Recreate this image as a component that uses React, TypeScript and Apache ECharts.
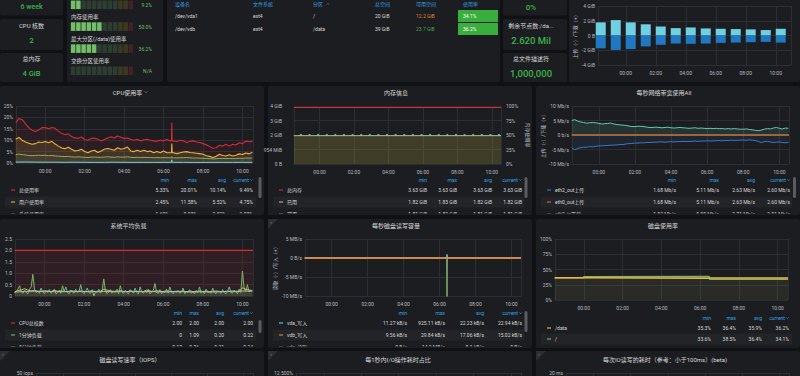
import React, { useEffect, useRef } from "react";
import * as echarts from "echarts";

const FONT = 'Roboto, "Noto Sans CJK SC", "Noto Sans", sans-serif';
const PAGE = "#101114";
const PANEL = "#1c1d21";
const ROWHL = "#232428";
const GRIDC = "#2c2e33";
const TXT = "#d8d9da";
const AXC = "#b9bcc0";
const HEAD = "#33a2e5";
const STATG = "#3cb44a";
const MIN = 60000;
const HOUR = 3600000;

const ts = (hm: string) => {
  const [h, m] = hm.split(":").map(Number);
  return new Date(2024, 0, h >= 12 ? 1 : 2, h, m).getTime();
};
const seq = (start: string, stepMin: number, vals: number[]) =>
  vals.map((v, i) => [ts(start) + i * stepMin * MIN, v]);
const pts = (times: string[], vals: number[]) => vals.map((v, i) => [ts(times[i]), v]);
const merge = (a: any[], b: any[]) => [...a, ...b].sort((p, q) => p[0] - q[0]);

// ---------- top row data ----------
const statLeftTitles = ["", "CPU 核数", "总内存"];
const statLeftValues = ["6 week", "2", "4 GiB"];
const statRightTitles = ["", "剩余节点数:/da...", "总文件描述符"];
const statRightValues = ["0%", "2.620 Mil", "1,000,000"];
const gaugeLabels = ["", "内存使用率", "最大分区(/data)使用率", "交换分区使用率"];
const gaugeValues: (number | null)[] = [9.2, 50.0, 36.2, null];
const gaugeTexts = ["9.2%", "50.0%", "36.2%", "N/A"];
const gaugeCells = ["c0", "c1", "c2", "c3", "c4", "c5", "c6", "c7", "c8", "c9", "c10", "c11"];
const tableHeaders = ["设备名", "文件系统", "分区", "总空间", "可用空间", "使用率"];
const tableDevices = ["/dev/vda1", "/dev/vdb"];
const tableFs = ["ext4", "ext4"];
const tableMounts = ["/", "/data"];
const tableTotals = ["20 GiB", "39 GiB"];
const tableAvail = ["12.2 GiB", "23.7 GiB"];
const tableAvailColors = ["#e5832b", "#56a64b"];
const tableUsage = ["34.1%", "36.2%"];

// top-right hourly network bars (GiB)
const netBarHours = ["22:00", "23:00", "00:00", "01:00", "02:00", "03:00", "04:00", "05:00", "06:00", "07:00", "08:00", "09:00", "10:00"];
const netBarDown = [1.78, 2.09, 1.78, 1.52, 1.22, 1.0, 1.09, 0.96, 0.91, 0.87, 0.83, 0.74, 0.91];
const netBarUp = [-1.74, -1.96, -1.83, -1.48, -1.26, -1.09, -1.13, -1.09, -1.0, -0.96, -0.91, -0.87, -0.96];

// ---------- CPU ----------
const cpuTotal = [17.7, 19.5, 19.0, 17.2, 15.5, 14.4, 13.8, 14.5, 15.5, 15.6, 15.0, 15.6, 15.2, 14.0, 13.0, 12.4, 12.8, 11.6, 11.0, 10.9, 11.4, 10.3, 10.0, 10.8, 11.0, 10.4, 9.6, 10.3, 11.0, 11.5, 11.0, 11.8, 11.3, 10.8, 11.0, 10.4, 10.0, 10.4, 9.7, 10.2, 10.4, 10.0, 9.7, 9.5, 10.0, 9.7, 10.4, 9.7, 9.7, 9.4, 10.0, 9.7, 9.0, 9.4, 9.7, 9.2, 9.0, 8.5, 8.0, 7.2, 6.5, 6.7, 7.8, 7.4, 8.2, 7.4, 8.2, 7.9, 8.9, 8.5, 9.6, 9.3, 9.49];
const cpuUser = [10.4, 11.2, 10.0, 9.2, 8.7, 8.2, 8.5, 9.2, 9.0, 9.4, 8.9, 9.5, 8.3, 7.4, 6.6, 6.3, 6.9, 6.0, 5.3, 5.5, 6.0, 5.0, 4.5, 5.3, 5.6, 4.6, 5.3, 6.0, 6.4, 6.0, 5.6, 6.7, 6.0, 6.4, 7.0, 5.3, 5.0, 5.6, 5.0, 5.6, 5.0, 5.3, 4.5, 5.0, 4.5, 5.3, 4.5, 4.5, 4.5, 4.1, 4.5, 4.8, 5.0, 4.6, 4.5, 4.3, 4.1, 3.8, 3.2, 2.9, 2.4, 3.0, 3.8, 3.3, 3.1, 3.6, 3.1, 3.4, 4.0, 3.7, 4.4, 4.0, 4.75];
const cpuSys = [3.6, 3.9, 3.7, 3.5, 3.3, 3.2, 3.3, 3.4, 3.3, 3.4, 3.2, 3.3, 3.1, 3.0, 2.9, 2.8, 2.9, 2.7, 2.6, 2.7, 2.6, 2.5, 2.4, 2.6, 2.6, 2.5, 2.5, 2.6, 2.7, 2.6, 2.5, 2.7, 2.6, 2.6, 2.7, 2.5, 2.4, 2.5, 2.4, 2.5, 2.4, 2.4, 2.3, 2.4, 2.3, 2.4, 2.3, 2.3, 2.3, 2.2, 2.3, 2.3, 2.4, 2.3, 2.2, 2.2, 2.1, 2.1, 2.0, 1.9, 1.8, 1.9, 2.0, 2.0, 1.9, 2.0, 1.9, 2.0, 2.1, 2.0, 2.2, 2.1, 2.2];
const cpuIo = [0.4, 0.45, 0.4, 0.35, 0.35, 0.3, 0.35, 0.3, 0.3, 0.3, 0.35, 0.3, 0.3, 0.3, 0.3, 0.3, 0.3, 0.3, 0.25, 0.25, 0.3, 0.3, 0.3, 0.3, 0.3];
const spikeTimes = ["06:24", "06:25", "06:26"];
const cpuTotalSpike = [9.9, 17.6, 9.8];
const cpuUserSpike = [4.6, 8.5, 4.5];
const cpuSysSpike = [2.3, 2.8, 2.3];
const cpuIoSpike = [0.3, 1.4, 0.3];

// ---------- memory (MiB, %) ----------
const memTimes = ["22:30", "10:32"];
const memTotal = [3717, 3717];
const memUsed = [1864, 1864];
const memPct = [50.1, 50.1, 50.2, 50.1, 50.1, 50.0, 50.1, 50.1, 50.2, 50.1, 50.1, 50.1, 50.0, 50.1, 50.1, 50.2, 50.1, 50.1, 50.1, 50.0, 50.1, 50.1, 50.1, 50.1];

// ---------- network (Mb/s) ----------
const netIn = [5.0, 5.3, 4.8, 4.5, 4.3, 4.1, 4.2, 4.3, 4.2, 4.0, 3.8, 3.9, 4.0, 4.1, 3.8, 3.6, 3.5, 3.4, 3.3, 3.1, 2.9, 2.9, 3.0, 3.0, 2.9, 2.7, 2.6, 2.6, 2.7, 2.6, 2.5, 2.6, 2.7, 2.5, 2.4, 2.5, 2.6, 2.5, 2.4, 2.3, 2.4, 2.5, 2.3, 2.4, 2.3, 2.2, 2.3, 2.2, 2.3, 2.2, 2.2, 2.1, 2.2, 2.1, 2.2, 2.1, 2.0, 2.0, 2.1, 1.9, 1.8, 1.6, 1.5, 1.7, 2.0, 2.2, 2.1, 2.4, 2.6, 2.3, 2.1, 2.4, 2.3];
const netOut = [-4.4, -5.1, -4.6, -4.4, -4.2, -4.2, -4.0, -4.1, -3.9, -3.8, -3.7, -3.7, -3.6, -3.5, -3.5, -3.4, -3.3, -3.3, -3.1, -3.0, -2.9, -2.8, -2.8, -2.7, -2.7, -2.6, -2.6, -2.5, -2.5, -2.4, -2.4, -2.5, -2.4, -2.3, -2.4, -2.3, -2.3, -2.2, -2.3, -2.2, -2.2, -2.1, -2.2, -2.1, -2.1, -2.0, -2.1, -2.0, -2.0, -1.9, -2.0, -1.9, -1.9, -1.8, -1.9, -1.8, -1.8, -1.75, -1.8, -1.7, -1.8, -1.9, -2.2, -2.6, -2.3, -2.2, -2.4, -2.6, -2.5, -2.4, -2.6, -2.7, -2.6];
const netEth0Times = ["22:30", "10:32"];
const netEth0 = [0, 0];

// ---------- load ----------
const loadCores = [2, 2];
const load1 = [0.15, 0.2, 0.3, 0.45, 0.18, 0.12, 0.25, 0.15, 0.1, 0.3, 0.4, 0.95, 0.3, 0.15, 0.2, 0.12, 0.35, 0.18, 0.1, 0.22, 0.15, 0.28, 0.12, 0.18, 0.3, 0.1, 0.15, 0.25, 0.12, 0.45, 0.2, 0.4, 0.15, 0.1, 0.25, 0.18, 0.12, 0.3, 0.15, 0.2, 0.5, 0.18, 0.1, 0.22, 0.35, 0.15, 0.12, 0.28, 0, 0.2, 0.15, 0.3, 0.12, 0.25, 0.75, 0.2, 0.1, 0.18, 0.28, 0.12, 0.2, 0.15, 0.3, 0.1, 0.45, 0.18, 0.12, 0.25, 0.15, 0.1, 0.28, 0.2, 0.12, 0.35, 0.15, 0.1, 0.4, 0.18, 0.12, 0.22, 0.15, 0.3, 0.1, 0.18, 0.25, 0.55, 0.15, 0.12, 0.28, 0.1, 0.2, 0.15, 0.3, 0.12, 0.4, 0.18, 0.1, 0.22, 0.15, 0.25, 0.12, 0.18, 0.35, 0.1, 0.2, 0.15, 0.28, 0.12, 0.18, 0.1, 0.25, 0.15, 0.4, 0.12, 0.2, 0.1, 0.3, 0.15, 0.18, 0.12, 0.35, 0.15, 0.1, 0.22, 0.18, 0.12, 0.28, 0.15, 0.1, 0.2, 0.4, 0.15, 0.12, 0.25, 0.18, 0.1, 0.3, 0.15, 1.09, 0.35, 0.2, 0.5, 0.18, 0.25, 0.22];
const load5 = [0.18, 0.24, 0.26, 0.32, 0.26, 0.22, 0.25, 0.21, 0.2, 0.23, 0.22, 0.2, 0.24, 0.21, 0.22, 0.2, 0.19, 0.23, 0.21, 0.2, 0.22, 0.2, 0.19, 0.22, 0.21, 0.2, 0.21, 0.3, 0.26, 0.22, 0.21, 0.2, 0.23, 0.2, 0.19, 0.22, 0.2, 0.21, 0.19, 0.2, 0.26, 0.22, 0.2, 0.23, 0.21, 0.2, 0.22, 0.2, 0.19, 0.21, 0.2, 0.22, 0.19, 0.21, 0.2, 0.19, 0.22, 0.2, 0.21, 0.19, 0.2, 0.22, 0.2, 0.19, 0.21, 0.2, 0.22, 0.2, 0.19, 0.36, 0.3, 0.26, 0.24];
const load15 = [0.17, 0.2, 0.21, 0.2, 0.19, 0.19, 0.2, 0.19, 0.19, 0.2, 0.19, 0.19, 0.2, 0.19, 0.19, 0.18, 0.19, 0.19, 0.18, 0.19, 0.18, 0.19, 0.2, 0.22, 0.21];

// ---------- disk rw (MB/s) ----------
const diskTimes = ["22:30", "06:24", "06:25", "06:26", "10:32"];
const vdaWrite = [0.02, 0.02, 0.93, 0.02, 0.02];
const vdbWrite = [0.017, 0.017, 0.017, 0.017, 0.015];
const vdaRead = [0, 0, -14, 0, 0];

// ---------- disk usage (%) ----------
const duTimes = ["22:30", "23:59", "00:00", "06:28", "06:30", "10:32"];
const duData = [36.4, 36.4, 35.4, 35.5, 36.1, 36.2];
const duRoot = [36.6, 36.6, 38.0, 38.5, 34.0, 34.1];

// ---------- bottom partial panels: top tick of each y axis ----------
const iopsMax = 50;
const ioPctMax = 12.5;
const ioLatMax = 20;

// ---------- legends ----------
const cpuLegNames = ["总使用率", "用户使用率", "系统使用率"];
const cpuLegColors = ["#d62b3a", "#eab839", "#7eb26d"];
const cpuLegStats = [["5.33%", "20.01%", "10.14%", "9.49%"], ["2.45%", "11.58%", "5.52%", "4.75%"], ["1.60%", "3.93%", "2.52%", "2.03%"]];
const memLegNames = ["总内存", "已用", "可用"];
const memLegColors = ["#d62b3a", "#bcb87a", "#6ed0e0"];
const memLegStats = [["3.63 GiB", "3.63 GiB", "3.63 GiB", "3.63 GiB"], ["1.82 GiB", "1.83 GiB", "1.82 GiB", "1.82 GiB"], ["1.81 GiB", "1.82 GiB", "1.81 GiB", "1.81 GiB"]];
const netLegNames = ["eth2_out上传", "eth0_out上传", "eth2_in下载"];
const netLegColors = ["#3d78c7", "#c8763c", "#64c8b0"];
const netLegStats = [["1.68 Mb/s", "5.11 Mb/s", "2.63 Mb/s", "2.60 Mb/s"], ["1.68 Mb/s", "5.11 Mb/s", "2.63 Mb/s", "2.60 Mb/s"], ["1.52 Mb/s", "5.30 Mb/s", "2.71 Mb/s", "2.31 Mb/s"]];
const loadLegNames = ["CPU总核数", "1分钟负载", "5分钟负载"];
const loadLegColors = ["#d62b3a", "#7eb26d", "#eab839"];
const loadLegStats = [["2.00", "2.00", "2.00", "2.00"], ["0", "1.09", "0.20", "0.22"], ["0.17", "0.36", "0.21", "0.24"]];
const diskLegNames = ["vda_写入", "vdb_写入", "vda_读取"];
const diskLegColors = ["#6ed0e0", "#ef843c", "#7eb26d"];
const diskLegStats = [["11.27 kB/s", "925.11 kB/s", "22.23 kB/s", "22.94 kB/s"], ["9.56 kB/s", "29.84 kB/s", "17.06 kB/s", "15.02 kB/s"], ["0 B/s", "14.2 MB/s", "8.1 kB/s", "0 B/s"]];
const duLegNames = ["/data", "/"];
const duLegColors = ["#eab839", "#7eb26d"];
const duLegStats = [["35.3%", "36.4%", "35.9%", "36.2%"], ["33.6%", "38.5%", "36.4%", "34.1%"]];

function buildOption() {
  const grids: any[] = [];
  const xAxis: any[] = [];
  const yAxis: any[] = [];
  const series: any[] = [];
  const els: any[] = [];
  const X0 = ts("22:31");
  const X1 = ts("10:32");
  const axFont = { color: AXC, fontSize: 5, fontFamily: FONT };

  const addGrid = (left: number, top: number, width: number, height: number, range?: number[], showX = true) => {
    grids.push({ left, top, width, height });
    const gi = grids.length - 1;
    xAxis.push({
      type: "time", gridIndex: gi, min: range ? range[0] : X0, max: range ? range[1] : X1,
      minInterval: 2.5 * HOUR, maxInterval: 2.5 * HOUR,
      axisLine: { show: false }, axisTick: { show: false },
      axisLabel: { show: showX, formatter: "{HH}:{mm}", margin: 5, ...axFont },
      splitLine: { show: true, lineStyle: { color: GRIDC, width: 1 } },
    });
    return gi;
  };
  const addY = (gi: number, min: number, max: number, interval: number, fmt: any, extra: any = {}, margin = 3) => {
    yAxis.push({
      type: "value", gridIndex: gi, min, max, interval,
      axisLine: { show: false }, axisTick: { show: false },
      axisLabel: { formatter: fmt, margin, ...axFont },
      splitLine: { show: true, lineStyle: { color: GRIDC, width: 1 } },
      nameTextStyle: { color: AXC, fontSize: 5, fontFamily: FONT },
      ...extra,
    });
    return yAxis.length - 1;
  };
  const addLine = (xi: number, yi: number, data: any[], color: string, width = 1, fill = 0, z = 3) => {
    series.push({
      type: "line", xAxisIndex: xi, yAxisIndex: yi, data, showSymbol: false, symbol: "none",
      lineStyle: { color, width }, itemStyle: { color },
      areaStyle: fill ? { color, opacity: fill } : undefined, z, silent: true,
    });
  };

  // graphic helpers
  const rect = (x: number, y: number, w: number, h: number, fill: string, r = 0, z = -10) =>
    els.push({ type: "rect", shape: { x, y, width: w, height: h, r }, style: { fill }, z, silent: true });
  const txt = (x: number, y: number, t: string, o: any = {}) =>
    els.push({
      type: "text", x, y, z: o.z ?? 50, silent: true,
      style: {
        text: t, fill: o.color || TXT, font: `${o.weight || "normal"} ${o.size || 5}px ${FONT}`,
        textAlign: o.align || "left", align: o.align || "left",
        textVerticalAlign: "middle", verticalAlign: "middle",
      },
    });
  const chevron = (cx: number, cy: number, color: string, s = 1.2, up = false) =>
    els.push({
      type: "polyline", z: 50, silent: true,
      shape: { points: up ? [[cx - s, cy + s * 0.5], [cx, cy - s * 0.5], [cx + s, cy + s * 0.5]] : [[cx - s, cy - s * 0.5], [cx, cy + s * 0.5], [cx + s, cy - s * 0.5]] },
      style: { stroke: color, lineWidth: 0.7, fill: "none" },
    });
  const legend = (px: number, pw: number, hy: number, cols: number[], names: string[], colors: string[], stats: string[][], gap = 12) => {
    ["min", "max", "avg"].forEach((h, i) => txt(cols[i], hy, h, { color: HEAD, align: "right" }));
    txt(cols[3] - 4, hy, "current", { color: HEAD, align: "right" });
    chevron(cols[3] - 1.5, hy, HEAD, 1.1);
    names.forEach((n, r) => {
      const y = hy + 10 + r * gap;
      if (r % 2 === 1) rect(px + 5, y - 5.5, pw - 13, 11, ROWHL, 0, -5);
      els.push({ type: "line", shape: { x1: px + 11, y1: y, x2: px + 15, y2: y }, style: { stroke: colors[r], lineWidth: 1.1 }, z: 50, silent: true });
      txt(px + 19, y, n);
      stats[r].forEach((s, i) => txt(cols[i], y, s, { align: "right" }));
    });
  };
  const infoIcon = (x: number, y: number) => {
    els.push({ type: "polygon", shape: { points: [[x, y], [x + 10, y], [x, y + 10]] }, style: { fill: "#2c2e33" }, z: 40, silent: true });
    txt(x + 2.6, y + 3.4, "i", { size: 4, color: "#a0a3a8" });
  };
  const scroll = (x: number, y: number, h: number) => rect(x, y, 3, h, "#5a5b60", 1.5, 45);

  // ---------- panels ----------
  const panels = [
    [0, -4, 63, 19.5], [0, 19, 63, 31], [0, 53, 63, 29], [67, -4, 96, 86], [167, -4, 333, 86],
    [503, -4, 64, 19.5], [503, 19, 64, 31], [503, 53, 64, 29], [569, -4, 231, 86],
    [0, 86, 264, 129], [268, 86, 264, 129], [536, 86, 264, 129],
    [0, 219, 264, 129], [268, 219, 264, 129], [536, 219, 264, 129],
    [0, 351, 264, 40], [268, 351, 264, 40], [536, 351, 264, 40],
  ];
  panels.forEach((p) => rect(p[0], p[1], p[2], p[3], PANEL, 2, -10));

  // ---------- stats ----------
  const statYs = [[0, 7.3], [25, 40.5], [58.5, 73.5]];
  const leftSizes = [7, 8, 7.5];
  statLeftTitles.forEach((t, i) => {
    if (t) txt(31.5, statYs[i][0], t, { size: 6, align: "center" });
    txt(31.5, statYs[i][1], statLeftValues[i], { size: leftSizes[i], color: STATG, align: "center", weight: 500 });
  });
  const rightSizes = [8, 9.5, 9.5];
  statRightTitles.forEach((t, i) => {
    if (t) txt(531, statYs[i][0], t, { size: 6, align: "center" });
    txt(531, statYs[i][1], statRightValues[i], { size: rightSizes[i], color: STATG, align: "center", weight: 500 });
  });

  // ---------- bar gauges ----------
  const gaugeTops = [0.5, 22.3, 44.3, 66.5];
  const labelYs = [-5, 17, 39, 61];
  const cellColor = (i: number, lit: boolean) => {
    const zone = i < 9 ? 0 : i < 11 ? 1 : 2;
    return lit ? ["#73bf69", "#fade2a", "#f2495c"][zone] : ["rgba(115,191,105,0.2)", "rgba(250,222,42,0.15)", "rgba(242,73,92,0.16)"][zone];
  };
  gaugeValues.forEach((v, k) => {
    if (gaugeLabels[k]) txt(71, labelYs[k], gaugeLabels[k], { size: 5.5 });
    txt(152, gaugeTops[k] + 4.3, gaugeTexts[k], { size: 5, color: "#73bf69", align: "right" });
  });

  // ---------- table ----------
  const tCols = [175, 253, 313, 375, 416, 463];
  tableHeaders.forEach((h, i) => txt(tCols[i], 4, h, { color: HEAD }));
  chevron(328, 4, HEAD, 1.1, true);
  const rowYs = [16.3, 29.2];
  tableDevices.forEach((d, r) => {
    const y = rowYs[r];
    rect(458, y - 6.2, 40, 12, "#3aae3d", 0, -4);
    txt(tCols[0], y, d);
    txt(tCols[1], y, tableFs[r]);
    txt(tCols[2], y, tableMounts[r]);
    txt(tCols[3], y, tableTotals[r]);
    txt(tCols[4], y, tableAvail[r], { color: tableAvailColors[r] });
    txt(tCols[5], y, tableUsage[r], { color: "#ffffff" });
  });

  // ---------- titles ----------
  txt(127.5, 92, "CPU使用率", { size: 6, align: "center" });
  chevron(146, 92, "#8e9196", 1.2);
  txt(396, 92, "内存信息", { size: 6, align: "center" });
  txt(664, 92, "每秒网络带宽使用All", { size: 6, align: "center" });
  txt(128.5, 225, "系统平均负载", { size: 6, align: "center" });
  txt(396, 225, "每秒磁盘读写容量", { size: 6, align: "center" });
  txt(663, 225, "磁盘使用率", { size: 6, align: "center" });
  txt(130, 359, "磁盘读写速率（IOPS）", { size: 6, align: "center" });
  txt(398, 359, "每1秒内I/O操作耗时占比", { size: 6, align: "center" });
  txt(665, 359, "每次IO读写的耗时（参考：小于100ms）(beta)", { size: 6, align: "center" });
  infoIcon(268, 219);
  infoIcon(0, 351);
  infoIcon(268, 351);
  infoIcon(536, 351);

  // ---------- CPU chart ----------
  const gCpu = addGrid(16, 106, 237, 57);
  const yCpu = addY(gCpu, 0, 25, 5, (v: number) => v + "%");
  addLine(gCpu, yCpu, merge(seq("22:30", 10, cpuTotal), pts(spikeTimes, cpuTotalSpike)), "#d62b3a", 1.1, 0.08, 4);
  addLine(gCpu, yCpu, merge(seq("22:30", 10, cpuUser), pts(spikeTimes, cpuUserSpike)), "#eab839", 1.1, 0.14, 5);
  addLine(gCpu, yCpu, merge(seq("22:30", 10, cpuSys), pts(spikeTimes, cpuSysSpike)), "#7eb26d", 1, 0.08, 6);
  addLine(gCpu, yCpu, merge(seq("22:30", 30, cpuIo), pts(spikeTimes, cpuIoSpike)), "#6ed0e0", 1, 0.1, 7);
  legend(0, 264, 180, [169, 197, 226, 253], cpuLegNames, cpuLegColors, cpuLegStats);
  scroll(258.5, 177, 21);

  // ---------- memory chart ----------
  const gMem = addGrid(294, 106, 207, 58);
  const memFmt = (v: number) => (v === 0 ? "0 B" : v < 1024 ? `${v} MiB` : `${Math.round(v / 1024)} GiB`);
  const yMem = addY(gMem, 0, 3816, 954, memFmt, {}, 12);
  const yMemR = addY(gMem, 0, 100, 25, (v: number) => v + "%", {
    position: "right", splitLine: { show: false }, name: "内存使用率", nameLocation: "middle", nameRotate: -90, nameGap: 24,
  }, 5);
  addLine(gMem, yMem, pts(memTimes, memUsed), "#bcb87a", 1, 0, 4);
  series.push({
    type: "line", xAxisIndex: gMem, yAxisIndex: yMem, data: pts(memTimes, memUsed), showSymbol: false, symbol: "none",
    lineStyle: { width: 0 }, areaStyle: { color: "#a8a040", opacity: 0.25 }, z: 2, silent: true,
  });
  addLine(gMem, yMem, pts(memTimes, memTotal), "#d62b3a", 1.2, 0, 5);
  series.push({
    type: "scatter", xAxisIndex: gMem, yAxisIndex: yMemR, data: seq("22:55", 30, memPct),
    symbol: "rect", symbolSize: [2, 2], itemStyle: { color: "#6ed0e0" }, z: 6, silent: true,
  });
  legend(268, 264, 180, [427, 457, 492, 522], memLegNames, memLegColors, memLegStats);
  scroll(524.5, 177, 21);

  // ---------- network chart ----------
  const gNet = addGrid(572, 106, 217, 58);
  const yNet = addY(gNet, -10, 10, 5, (v: number) => (v === 0 ? "0 b/s" : `${v} Mb/s`), {
    name: "上传（-）/下载（+）", nameLocation: "middle", nameRotate: 90, nameGap: 25,
  });
  addLine(gNet, yNet, seq("22:30", 10, netIn), "#64c8b0", 1, 0.13, 4);
  addLine(gNet, yNet, seq("22:30", 10, netOut), "#3d78c7", 1, 0.1, 4);
  addLine(gNet, yNet, pts(netEth0Times, netEth0), "#c8763c", 1.6, 0, 5);
  legend(536, 264, 180, [676, 719, 755, 790], netLegNames, netLegColors, netLegStats);
  scroll(793, 177, 21);

  // ---------- load chart ----------
  const gLoad = addGrid(15, 239, 238, 57);
  const yLoad = addY(gLoad, 0, 2.5, 0.5, (v: number) => (v === 0 ? "0" : v.toFixed(1)));
  addLine(gLoad, yLoad, pts(memTimes, loadCores), "#d62b3a", 1.2, 0.1, 4);
  addLine(gLoad, yLoad, seq("22:30", 5, load1), "#7eb26d", 1, 0.1, 5);
  addLine(gLoad, yLoad, seq("22:30", 10, load5), "#eab839", 1, 0.08, 6);
  addLine(gLoad, yLoad, seq("22:30", 30, load15), "#6ed0e0", 1, 0.05, 7);
  legend(0, 264, 313, [182, 199, 224, 253], loadLegNames, loadLegColors, loadLegStats);
  scroll(258.5, 320, 13);

  // ---------- disk rw chart ----------
  const gDisk = addGrid(305, 239, 216, 57);
  const yDisk = addY(gDisk, -10, 5, 5, (v: number) => (v === 0 ? "0 B/s" : `${v} MB/s`), {
    name: "读取（-）/写入（+）", nameLocation: "middle", nameRotate: 90, nameGap: 27,
  });
  addLine(gDisk, yDisk, pts(diskTimes, vdaRead), "#7eb26d", 1, 0, 4);
  addLine(gDisk, yDisk, pts(diskTimes, vdaWrite), "#6ed0e0", 1, 0, 5);
  addLine(gDisk, yDisk, pts(diskTimes, vdbWrite), "#ef843c", 1.5, 0, 6);
  legend(268, 264, 313, [407, 445, 484, 522], diskLegNames, diskLegColors, diskLegStats);
  scroll(524.5, 311, 21);

  // ---------- disk usage chart ----------
  const gDu = addGrid(555, 239, 233, 61);
  const yDu = addY(gDu, 0, 100, 25, (v: number) => v + "%");
  addLine(gDu, yDu, pts(duTimes, duRoot), "#7eb26d", 1.5, 0.05, 4);
  addLine(gDu, yDu, pts(duTimes, duData), "#eab839", 1.5, 0.05, 5);
  legend(536, 264, 318, [711, 736, 762, 789], duLegNames, duLegColors, duLegStats, 11);

  // ---------- top-right bars ----------
  const gBar = addGrid(598, 6, 193, 59, [ts("22:29"), ts("10:41")]);
  const yBar = addY(gBar, -4, 4, 2, (v: number) => (v === 0 ? "0 B" : `${v} GiB`), {
    name: "上传（-）/下载（+）", nameLocation: "middle", nameRotate: 90, nameGap: 17,
  });
  const barTimes = netBarHours.map((h) => ts(h) + 20 * MIN);
  series.push({
    type: "bar", xAxisIndex: gBar, yAxisIndex: yBar, data: netBarDown.map((v, i) => [barTimes[i], v]),
    barWidth: 10, barGap: "-100%", itemStyle: { color: "#6ed0e0" }, silent: true, z: 3,
  });
  series.push({
    type: "bar", xAxisIndex: gBar, yAxisIndex: yBar, data: netBarUp.map((v, i) => [barTimes[i], v]),
    barWidth: 10, barGap: "-100%", itemStyle: { color: "#1f78c1" }, silent: true, z: 3,
  });

  // ---------- bottom partial panels (only the top tick is on screen) ----------
  const gIops = addGrid(36, 373, 217, 60, undefined, false);
  addY(gIops, 0, iopsMax, iopsMax / 2, (v: number) => (v === iopsMax ? `${v} iops` : ""));
  const gPct = addGrid(296, 373, 225, 60, undefined, false);
  addY(gPct, 0, ioPctMax, ioPctMax / 5, (v: number) => (v === ioPctMax ? `${v.toFixed(3)}%` : ""));
  const gLat = addGrid(566, 373, 223, 60, undefined, false);
  addY(gLat, 0, ioLatMax, ioLatMax / 4, (v: number) => (v === ioLatMax ? `${v} ms` : ""));

  // ---------- gauge grids ----------
  gaugeValues.forEach((v, k) => {
    grids.push({ left: 70.5, top: gaugeTops[k], width: 63, height: 8.6 });
    const gi = grids.length - 1;
    xAxis.push({ type: "category", gridIndex: gi, data: gaugeCells, show: false });
    yAxis.push({ type: "value", gridIndex: gi, min: 0, max: 1, show: false });
    const yi = yAxis.length - 1;
    const lit = v == null ? 0 : Math.ceil((v / 100) * gaugeCells.length);
    series.push({
      type: "bar", xAxisIndex: gi, yAxisIndex: yi, barCategoryGap: "14%", silent: true,
      data: gaugeCells.map((_, i) => ({ value: 1, itemStyle: { color: cellColor(i, i < lit) } })),
    });
  });

  // ---------- partial 3rd legend rows clipping ----------
  [[0, 264], [268, 264], [536, 264]].forEach(([x, w]) => {
    rect(x, 213.4, w - 8, 1.6, PANEL, 0, 60);
    rect(x, 346.4, w - 8, 1.6, PANEL, 0, 60);
  });
  rect(0, 215, 800, 4, PAGE, 0, 61);
  rect(0, 348, 800, 3, PAGE, 0, 61);

  return {
    backgroundColor: PAGE,
    animation: false,
    textStyle: { fontFamily: FONT },
    grid: grids,
    xAxis,
    yAxis,
    series,
    graphic: { elements: els },
  };
}

export default function App() {
  const ref = useRef<HTMLDivElement>(null);
  useEffect(() => {
    document.body.style.margin = "0";
    document.body.style.background = PAGE;
    const chart = echarts.init(ref.current!, null, { renderer: "svg" });
    chart.setOption(buildOption() as any);
    return () => chart.dispose();
  }, []);
  return <div ref={ref} style={{ width: 800, height: 376, background: PAGE }} />;
}
